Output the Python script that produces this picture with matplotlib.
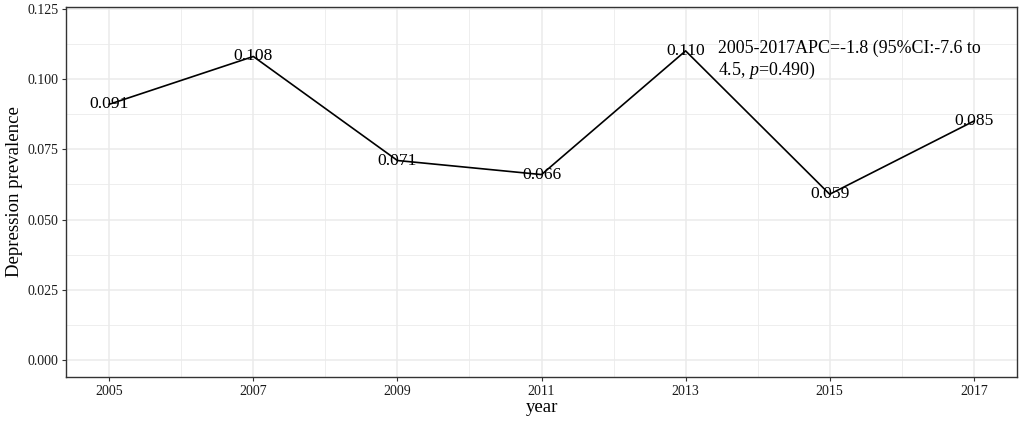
import numpy as np
import matplotlib
matplotlib.use("Agg")
import matplotlib.pyplot as plt
from matplotlib.ticker import MultipleLocator

plt.rcParams['font.family'] = ['Liberation Serif', 'DejaVu Serif']
plt.rcParams['mathtext.fontset'] = 'custom'
plt.rcParams['mathtext.rm'] = 'Liberation Serif'
plt.rcParams['mathtext.it'] = 'Liberation Serif:italic'

years = [2005, 2007, 2009, 2011, 2013, 2015, 2017]
prevalence = [0.091, 0.108, 0.071, 0.066, 0.110, 0.059, 0.085]
labels = ["0.091", "0.108", "0.071", "0.066", "0.110", "0.059", "0.085"]
y_ticks = [0.000, 0.025, 0.050, 0.075, 0.100, 0.125]
apc_text = "2005-2017APC=-1.8 (95%CI:-7.6 to\n4.5, $\\mathit{p}$=0.490)"

fig = plt.figure(figsize=(10.21, 4.21), dpi=100)
ax = fig.add_axes([66/1021, 44/421, 951/1021, 370/421])

ax.plot(years, prevalence, color='black', lw=1.2, zorder=3)
for x, y, s in zip(years, prevalence, labels):
    ax.text(x, y, s, ha='center', va='center', fontsize=12.6, zorder=4)
ax.text(2013.45, 0.1066, apc_text, ha='left', va='center', fontsize=12.9,
        linespacing=1.2)

ax.set_xlim(2004.4, 2017.6)
ax.set_ylim(-0.006, 0.1256)
ax.set_xticks(years)
ax.xaxis.set_minor_locator(MultipleLocator(1))
ax.set_yticks(y_ticks)
ax.set_yticklabels(["%.3f" % v for v in y_ticks])
ax.yaxis.set_minor_locator(MultipleLocator(0.0125))

ax.grid(which='major', color='#EBEBEB', lw=1.1)
ax.grid(which='minor', color='#EBEBEB', lw=0.6)
ax.set_axisbelow(True)
ax.tick_params(which='minor', length=0)
ax.tick_params(which='major', length=3, width=0.8, color='#333333',
               labelsize=10, labelcolor='#1a1a1a', pad=2.5)
for sp in ax.spines.values():
    sp.set_color('#333333')
    sp.set_linewidth(1.0)

ax.set_xlabel("year", fontsize=13.5, labelpad=1)
ax.set_ylabel("Depression prevalence", fontsize=13.5, labelpad=3)

fig.savefig("out.png", dpi=100)
